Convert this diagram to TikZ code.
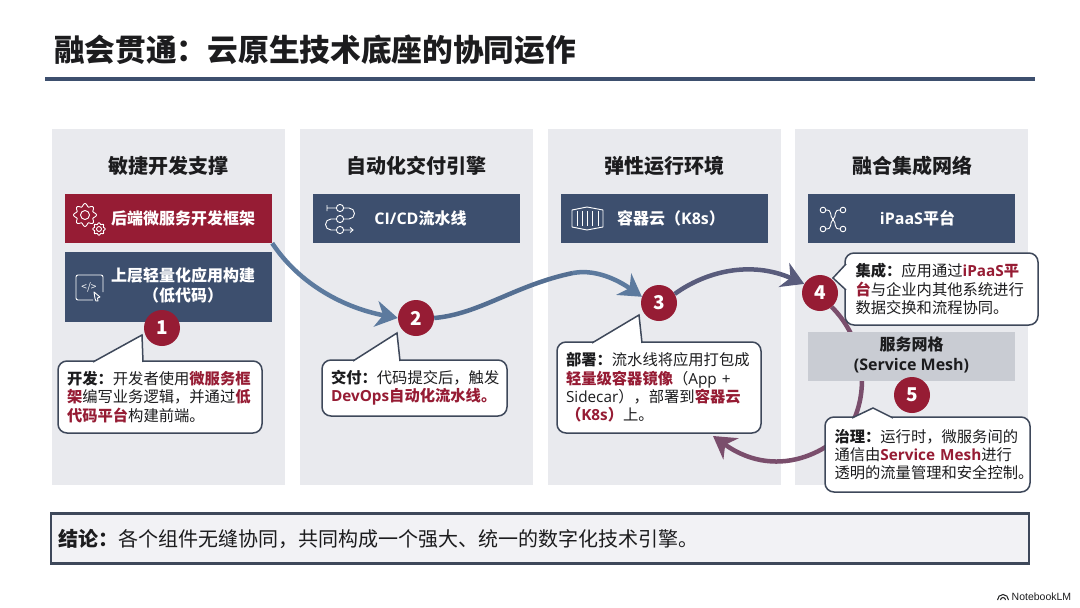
\documentclass[tikz,border=0pt]{standalone}
\usepackage{fontspec}
\setmainfont{Noto Sans CJK SC}
\newfontfamily\logofont{Liberation Sans}
\newfontfamily\latinfont{Open Sans}
\usepackage{xcolor}
\usetikzlibrary{arrows.meta,positioning}
\definecolor{cnred}{RGB}{150,28,52}
\definecolor{cnnavy}{RGB}{61,79,110}
\definecolor{cnpanel}{RGB}{233,234,238}
\definecolor{cngrey}{RGB}{201,204,211}
\definecolor{cnink}{RGB}{28,28,30}
\definecolor{cnedge}{RGB}{62,72,90}
\definecolor{flowblue}{RGB}{92,122,158}
\definecolor{flowslate}{RGB}{89,92,124}
\definecolor{flowplum}{RGB}{122,78,108}
\tikzstyle{panel} = [fill=cnpanel,minimum width=233pt,minimum height=356pt,inner sep=0pt]
\tikzstyle{panelhead} = [font=\fontsize{20}{24}\selectfont\bfseries,text=cnink]
\tikzstyle{tagbox} = [fill=cnnavy,text=white,minimum width=207pt,minimum height=49pt,inner sep=0pt,align=center,font=\fontsize{16}{20}\selectfont\bfseries]
\tikzstyle{stepdot} = [circle,fill=cnred,text=white,minimum size=36pt,inner sep=0pt,font=\fontsize{19}{19}\selectfont\bfseries]
\tikzstyle{callout} = [draw=cnedge,line width=1.5pt,fill=white,rounded corners=9pt,inner sep=0pt,align=left,text=cnink,font=\fontsize{15.3}{18.3}\selectfont]
\tikzstyle{pointer} = [draw=cnedge,line width=1.5pt,fill=white,line join=miter]
\tikzstyle{flow} = [line width=4.5pt,-{Stealth[length=22pt,width=26pt,inset=7pt]}]
\tikzstyle{iconline} = [draw=white,line width=0.9pt]
\newcommand{\keyword}[1]{\textcolor{cnred}{\textbf{#1}}}
\newcommand{\gearicon}[3]{%
    \draw[iconline,domain=0:360,samples=145,smooth] plot ({#1+(#3+0.14*#3*cos(8*\x))*cos(\x)},{#2+(#3+0.14*#3*cos(8*\x))*sin(\x)});
    \draw[iconline] (#1,#2) circle [radius=0.45*#3];
}

\begin{document}
\begin{tikzpicture}[x=1pt,y=-1pt]
    \useasboundingbox (0,0) rectangle (1080,608);
    \fill[white] (0,0) rectangle (1080,608);

    % Title
    \node[anchor=west,inner sep=0pt,text=cnink,font=\fontsize{30.7}{36}\selectfont\bfseries] (pagetitle) at (54,50) {融会贯通：云原生技术底座的协同运作};
    \draw[cnnavy,line width=3.5pt] (45,79) -- (1035,79);

    % Panels
    \node[panel] (devpanel) at (168.5,307) {};
    \node[panel] (cicdpanel) at (416,307) {};
    \node[panel] (runpanel) at (664,307) {};
    \node[panel] (intpanel) at (911.5,307) {};
    \node[panelhead] (devhead) at (168,166) {敏捷开发支撑};
    \node[panelhead] (cicdhead) at (416,166) {自动化交付引擎};
    \node[panelhead] (runhead) at (664,166) {弹性运行环境};
    \node[panelhead] (inthead) at (912,166) {融合集成网络};

    % Nodes the flow runs through
    \node[tagbox,fill=cnred] (backend) at (168.5,218.5) {\hspace*{29pt}后端微服务开发框架};
    \node[stepdot] (step2) at (416,318) {2};
    \node[stepdot] (step3) at (659,303) {3};
    \node[stepdot] (step4) at (820,293) {4};
    \coordinate (deploytip) at (713,436);

    % Flow
    \draw[flow,flowblue] (backend.south east) .. controls (300,285) and (345,308) .. (step2.west);
    \draw[line width=4.5pt,flowblue!75!cnnavy] (step2.east) .. controls (480,314) and (515,285) .. (573,273);
    \draw[flow,flowblue] (573,273) .. controls (600,268) and (625,285) .. (step3.160);
    \draw[flow,flowslate] (step3.30) .. controls (705,272) and (750,260) .. (step4.150);
    \draw[flow,flowplum] (step4.-50) .. controls (860,335) and (870,380) .. (855,417) .. controls (840,447) and (780,484) .. (deploytip);

    % Tag boxes
    \node[tagbox,minimum height=70pt] (lowcode) at (168.5,287) {\hspace*{29pt}\raisebox{-2.5pt}{\begin{tabular}{@{}c@{}}上层轻量化应用构建\\（低代码）\end{tabular}}};
    \node[tagbox] (pipeline) at (416,218.5) {\hspace*{9pt}{\latinfont CI/CD}流水线};
    \node[tagbox] (k8s) at (664,218.5) {\hspace*{14pt}容器云（{\latinfont K8s}）};
    \node[tagbox] (ipaas) at (911.5,218.5) {\hspace*{12pt}{\latinfont iPaaS}平台};
    \node[tagbox,fill=cngrey,text=cnink] (mesh) at (911.5,356.5) {\raisebox{-1.5pt}{\begin{tabular}{@{}c@{}}服务网格\\{\latinfont (Service Mesh)}\end{tabular}}};

    % Icons
    \gearicon{85}{215}{10}
    \gearicon{99}{229}{5.5}
    \draw[iconline,rounded corners=2pt] (93,300) -- (76,300) -- (76,275) -- (103,275) -- (103,292);
    \node[text=white,inner sep=0pt,font=\fontsize{10}{10}\selectfont] (codemark) at (89,287) {</>};
    \draw[iconline,line join=round] (94,292) -- (100,297) -- (97.5,298) -- (98,301) -- (96,301) -- (95,298.5) -- cycle;
    \draw[iconline] (327,205) -- (327,211) (327,208) -- (336,208) (344,208) -- (349,208) arc (-90:90:5.5) -- (344,219) (336,219) -- (331,219) arc (-90:-270:5.5) -- (336,230) (344,230) -- (353,230);
    \draw[iconline] (350,227.5) -- (353,230) -- (350,232.5);
    \foreach \cx/\cy in {340/208,340/219,340/230} {
        \draw[iconline] (\cx,\cy) circle [radius=3.6];
    }
    \draw[iconline,line join=round] (572,210) -- (587,207) -- (603,210) -- (603,227) -- (587,230) -- (572,227) -- cycle;
    \foreach \cx in {577,582,587,592,598} {
        \draw[iconline] (\cx,211) -- (\cx,226);
    }
    \foreach \cx/\cy in {823/210,843/210,823/229,843/229} {
        \draw[iconline] (\cx,\cy) circle [radius=2.8];
    }
    \draw[iconline] (826,210) .. controls (833,210) and (829,216) .. (833,219.5) .. controls (837,216) and (833,210) .. (840,210);
    \draw[iconline] (826,229) .. controls (833,229) and (829,223) .. (833,219.5) .. controls (837,223) and (833,229) .. (840,229);

    % Remaining steps
    \node[stepdot] (step1) at (162,328) {1};
    \node[stepdot] (step5) at (912,395) {5};

    % Callouts
    \node[callout,minimum width=204pt,minimum height=72pt,text width=186pt] (devnote) at (160,397) {\textbf{开发：}开发者使用\keyword{微服务框}\\\keyword{架}编写业务逻辑，并通过\keyword{低}\\\keyword{代码平台}构建前端。};
    \draw[pointer] (93,362) -- (142,335) -- (143,362);
    \node[callout,minimum width=185pt,minimum height=56pt,text width=167pt] (cicdnote) at (414.5,388) {\textbf{交付：}代码提交后，触发\\\keyword{{\latinfont DevOps}自动化流水线。}};
    \draw[pointer] (353,361) -- (397,333) -- (400,361);
    \node[callout,minimum width=204pt,minimum height=91pt,text width=186pt] (deploynote) at (659,387.5) {\textbf{部署：}流水线将应用打包成\\\keyword{轻量级容器镜像}（{\latinfont App +}\\{\latinfont Sidecar}），部署到\keyword{容器云}\\\keyword{（{\latinfont K8s}）}上。};
    \draw[pointer] (592,343) -- (639,315) -- (642,343);
    \node[callout,minimum width=193pt,minimum height=72pt,text width=172pt] (intnote) at (941.5,289) {\textbf{集成：}应用通过\keyword{{\latinfont iPaaS}平}\\\keyword{台}与企业内其他系统进行\\数据交换和流程协同。};
    \draw[pointer] (846,264) -- (833,278) -- (846,290);
    \node[callout,minimum width=205pt,minimum height=75pt,text width=186pt] (meshnote) at (927.5,454.5) {\textbf{治理：}运行时，微服务间的\\通信由\keyword{\latinfont Service Mesh}进行\\透明的流量管理和安全控制。};
    \draw[pointer] (852,418) -- (873,408) -- (893,418);

    % Conclusion
    \node[draw=cnedge,line width=1.5pt,fill=cnpanel!60!white,minimum width=978pt,minimum height=49pt,inner sep=0pt,text width=963pt,align=left,text=cnink,font=\fontsize{20}{24}\selectfont] (summary) at (540,538.5) {\textbf{结论：}各个组件无缝协同，共同构成一个强大、统一的数字化技术引擎。};
    \draw[cnedge,line width=3pt] (summary.north west) -- (summary.north east);
    \draw[cnedge,line width=3pt] (summary.south west) -- (summary.south east);

    % Logo
    \node[anchor=west,inner sep=0pt,text=cnink,font=\logofont\fontsize{10.5}{12}\selectfont] (brand) at (1011.5,597) {NotebookLM};
    \draw[cnink,line width=1pt] (997.5,600) arc (180:360:5.5) (1000.5,600) arc (180:360:2.5);
\end{tikzpicture}
\end{document}
